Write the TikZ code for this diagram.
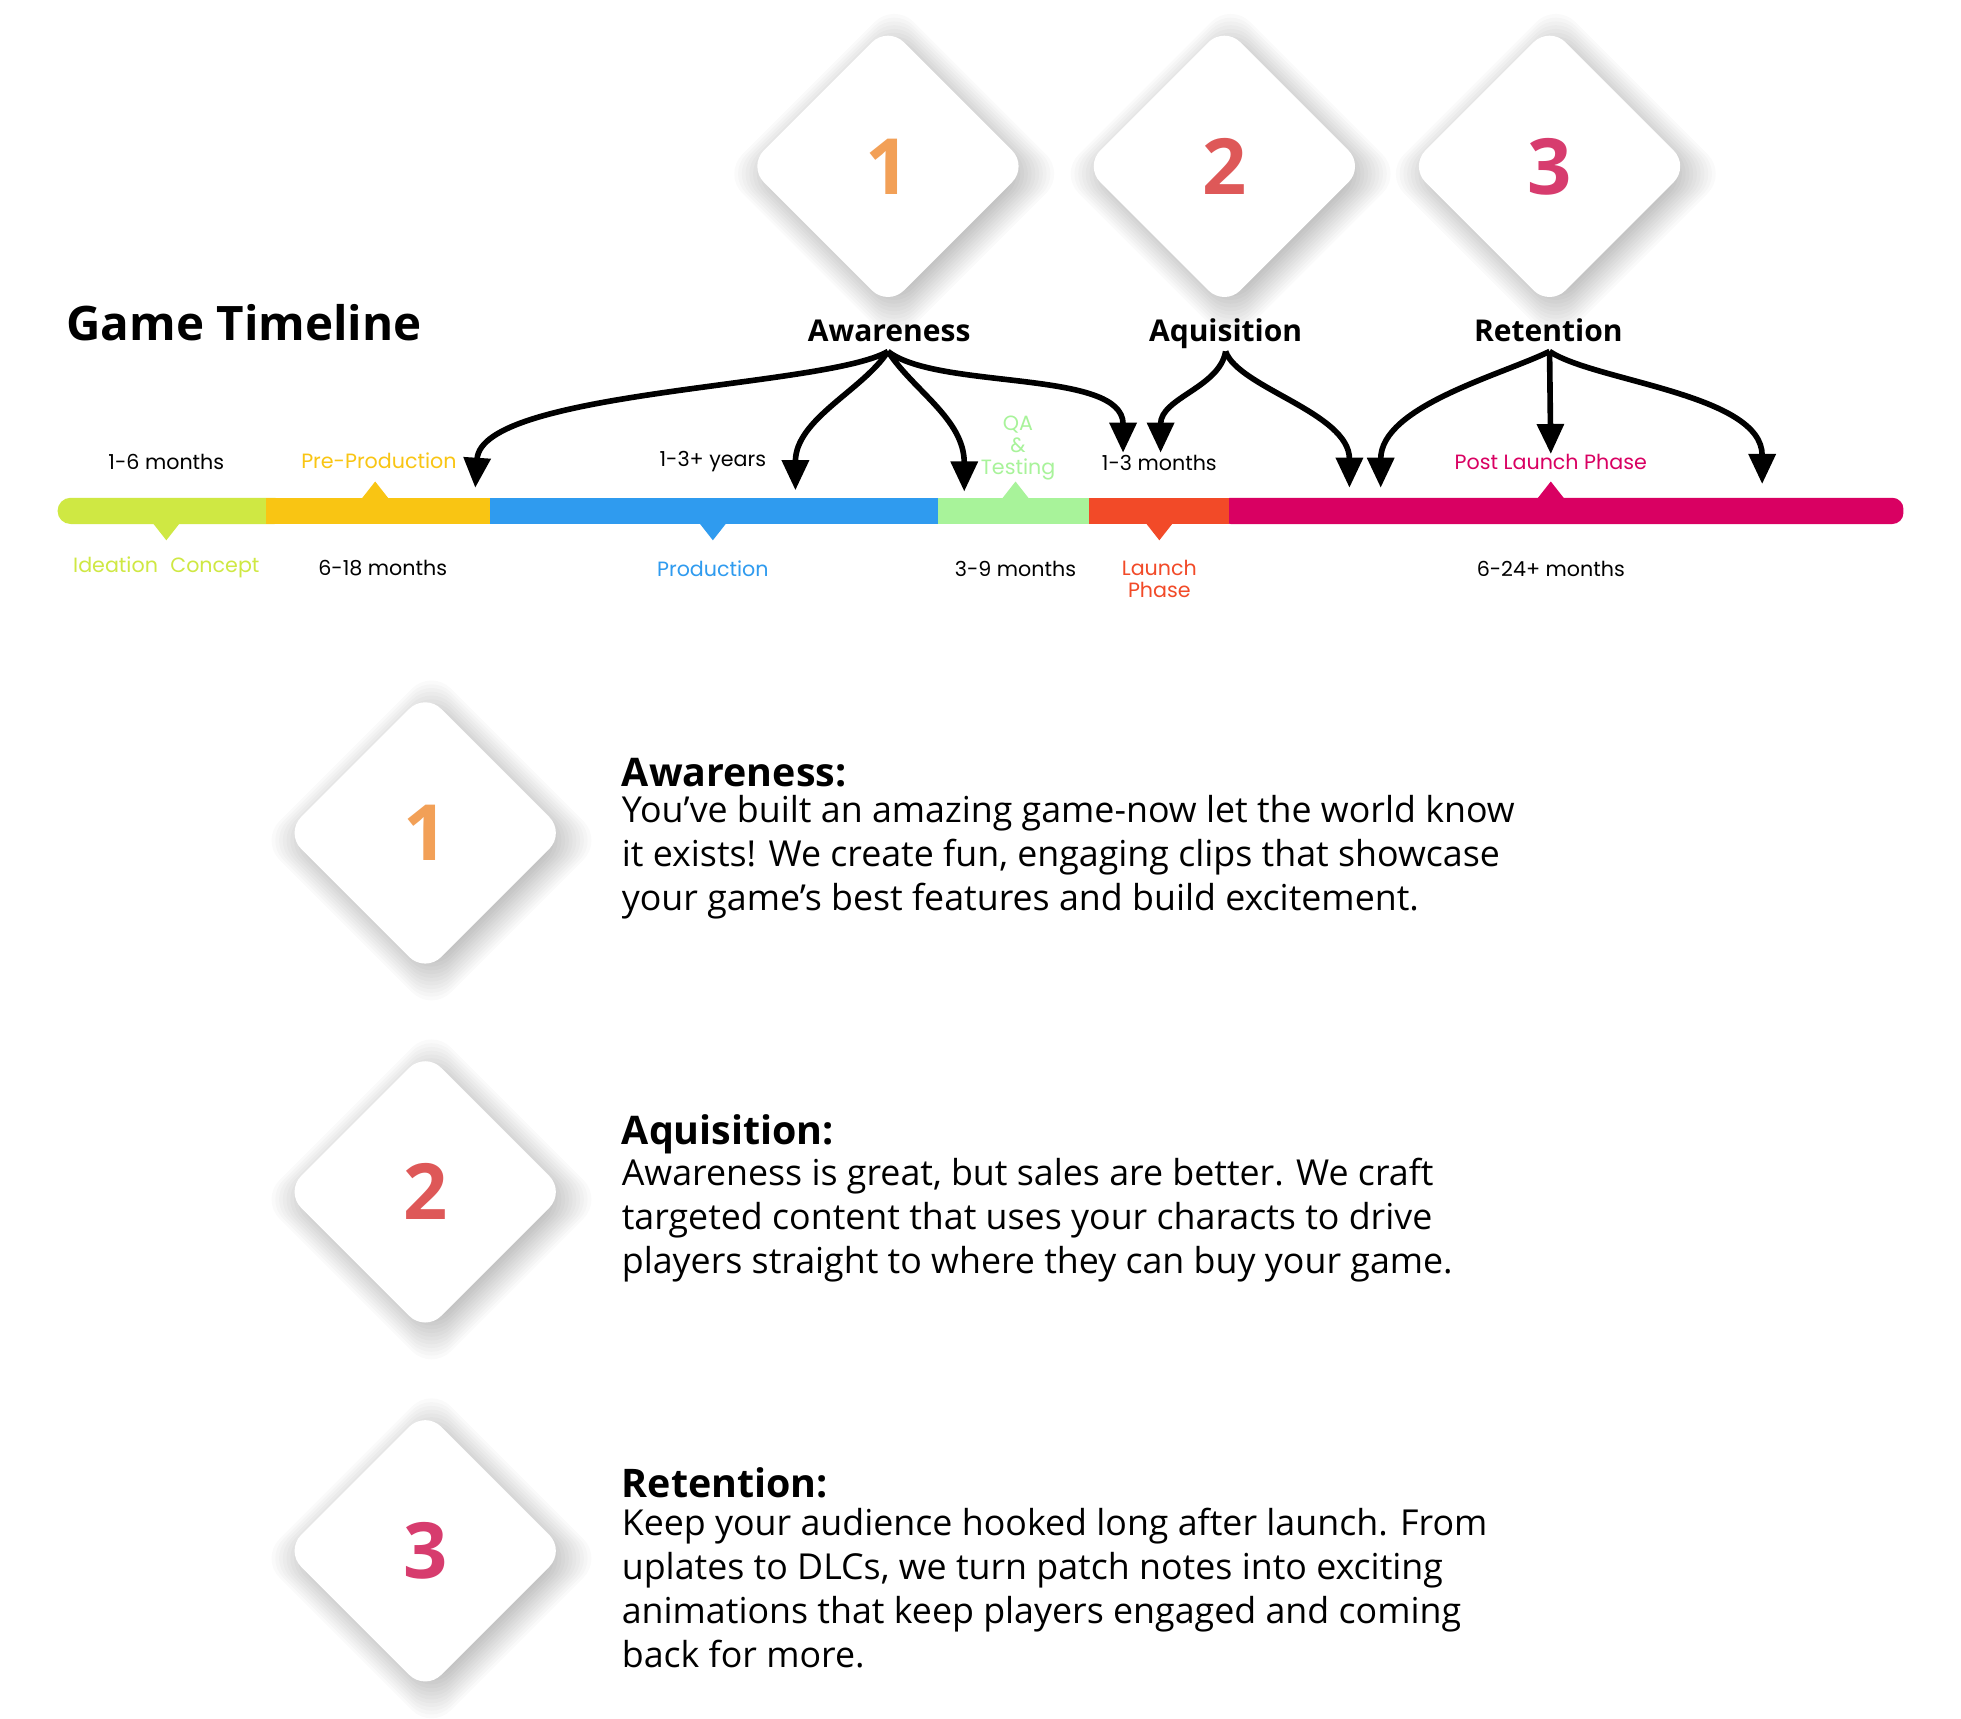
\documentclass[tikz,border=0pt]{standalone}
\usepackage{fontspec}
\setmainfont{Open Sans}
\newfontfamily\tlfont{Poppins}
\usetikzlibrary{arrows.meta,shapes.geometric}
\definecolor{cLime}{RGB}{207,232,67}
\definecolor{cYel}{RGB}{249,197,19}
\definecolor{cBlue}{RGB}{47,155,239}
\definecolor{cGreen}{RGB}{168,243,154}
\definecolor{cRed}{RGB}{242,74,40}
\definecolor{cMag}{RGB}{217,0,98}
\definecolor{nOne}{RGB}{242,160,87}
\definecolor{nTwo}{RGB}{222,88,88}
\definecolor{nThree}{RGB}{215,60,110}
\newcommand\cardshadow[2]{%
  \foreach \k in {0,...,11}{%
    \pgfmathsetmacro\s{104+3*\k}
    \fill[black, opacity=0.02, rounded corners=22pt] (#1+5,#2+6-\s) -- (#1+5+\s,#2+6) -- (#1+5,#2+6+\s) -- (#1+5-\s,#2+6) -- cycle;
  }}
\begin{document}
\begin{tikzpicture}[x=1pt,y=-1pt,
  tl/.style={font=\tlfont\fontsize{16.5}{17.5}\selectfont, inner sep=0, align=center},
  arr/.style={line width=4.5pt, -{Triangle[length=24pt,width=21pt]}},
  card/.style={diamond, aspect=1, minimum size=224pt, inner sep=0, fill=white, rounded corners=18pt},
  bignum/.style={font=\bfseries\fontsize{62}{62}\selectfont},
  phase/.style={font=\bfseries\fontsize{24}{24}\selectfont, inner sep=0, anchor=base},
  btitle/.style={font=\bfseries\fontsize{31.5}{31.5}\selectfont, inner sep=0, anchor=base west},
  btext/.style={font=\fontsize{28.6}{35}\selectfont, inner sep=0, align=left, anchor=north west}]
\useasboundingbox (0,0) rectangle (1568,1374);
\fill[white] (0,0) rectangle (1568,1374);

% title
\node[font=\bfseries\fontsize{38}{38}\selectfont, inner sep=0, anchor=base west] (title) at (53,272) {Game Timeline};

% top cards
\cardshadow{710}{133}
\cardshadow{979}{133}
\cardshadow{1239}{133}
\node[card] (c1) at (710,133) {};
\node[card] (c2) at (979,133) {};
\node[card] (c3) at (1239,133) {};
\node[bignum, text=nOne] (n1) at (c1) {1};
\node[bignum, text=nTwo] (n2) at (c2) {2};
\node[bignum, text=nThree] (n3) at (c3) {3};

\node[phase] (aw) at (711,273) {Awareness};
\node[phase] (aq) at (980,273) {Aquisition};
\node[phase] (re) at (1238,273) {Retention};

% timeline bar
\fill[cLime, rounded corners=10.5pt] (46,398) rectangle (230,419);
\fill[cYel] (213,398) rectangle (392,419);
\fill[cBlue] (392,398) rectangle (750,419);
\fill[cGreen] (750,398) rectangle (871,419);
\fill[cMag, rounded corners=9pt] (975,398) rectangle (1522,419);
\fill[cRed] (871,398) rectangle (983,419);
% pointers
\fill[cLime] (122,418) -- (144,418) -- (133,432) -- cycle;
\fill[cYel] (289,399) -- (311,399) -- (300,385) -- cycle;
\fill[cBlue] (559,418) -- (581,418) -- (570,432) -- cycle;
\fill[cGreen] (801,399) -- (823,399) -- (812,385) -- cycle;
\fill[cRed] (916,418) -- (938,418) -- (927,432) -- cycle;
\fill[cMag] (1229,399) -- (1251,399) -- (1240,385) -- cycle;

% timeline labels
\node[tl] (l1) at (133,369) {1-6 months};
\node[tl, text=cLime] (l2) at (133,454) {Ideation\hspace{0.6em}Concept};
\node[tl, text=cYel] (l3) at (303,368) {Pre-Production};
\node[tl] (l4) at (306,454) {6-18 months};
\node[tl] (l5) at (570,369) {1-3+ years};
\node[tl, text=cBlue] (l6) at (570,455) {Production};
\node[tl, text=cGreen] (l7) at (814,358) {QA\\\&\\Testing};
\node[tl] (l8) at (812,455) {3-9 months};
\node[tl] (l9) at (927,370) {1-3 months};
\node[tl, text=cRed] (l10) at (927,463) {Launch\\Phase};
\node[tl, text=cMag] (l11) at (1240,369) {Post Launch Phase};
\node[tl] (l12) at (1240,455) {6-24+ months};

% arrow sources and targets
\coordinate (awp) at (710,281);
\coordinate (aqp) at (980,281);
\coordinate (rep) at (1239,281);
\coordinate (t1) at (380,390);
\coordinate (t2) at (636,392);
\coordinate (t3) at (771,393);
\coordinate (t4) at (898,362);
\coordinate (t5) at (928,362);
\coordinate (t6) at (1079,390);
\coordinate (t7) at (1104,390);
\coordinate (t8) at (1240,363);
\coordinate (t9) at (1409,387);

\draw[arr] (awp) .. controls (660,310) and (385,312) .. (t1);
\draw[arr] (awp) .. controls (690,312) and (636,335) .. (t2);
\draw[arr] (awp) .. controls (730,312) and (771,335) .. (t3);
\draw[arr] (awp) .. controls (750,312) and (898,295) .. (t4);
\draw[arr] (aqp) .. controls (975,310) and (928,318) .. (t5);
\draw[arr] (aqp) .. controls (990,310) and (1079,330) .. (t6);
\draw[arr] (rep) .. controls (1200,300) and (1104,325) .. (t7);
\draw[arr] (rep) -- (t8);
\draw[arr] (rep) .. controls (1275,305) and (1409,315) .. (t9);

% bottom cards
\cardshadow{340}{666}
\cardshadow{340}{953}
\cardshadow{340}{1240}
\node[card] (b1) at (340,666) {};
\node[card] (b2) at (340,953) {};
\node[card] (b3) at (340,1240) {};
\node[bignum, text=nOne] (bn1) at (b1) {1};
\node[bignum, text=nTwo] (bn2) at (b2) {2};
\node[bignum, text=nThree] (bn3) at (b3) {3};

% descriptions
\node[btitle] (h1) at (497,629) {Awareness:};
\node[btext] (p1) at (497,636) {You’ve built an amazing game-now let the world know\\it exists! We create fun, engaging clips that showcase\\your game’s best features and build excitement.};
\node[btitle] (h2) at (497,915) {Aquisition:};
\node[btext] (p2) at (497,926) {Awareness is great, but sales are better. We craft\\targeted content that uses your characts to drive\\players straight to where they can buy your game.};
\node[btitle] (h3) at (497,1197) {Retention:};
\node[btext] (p3) at (497,1206) {Keep your audience hooked long after launch. From\\uplates to DLCs, we turn patch notes into exciting\\animations that keep players engaged and coming\\back for more.};
\end{tikzpicture}
\end{document}
